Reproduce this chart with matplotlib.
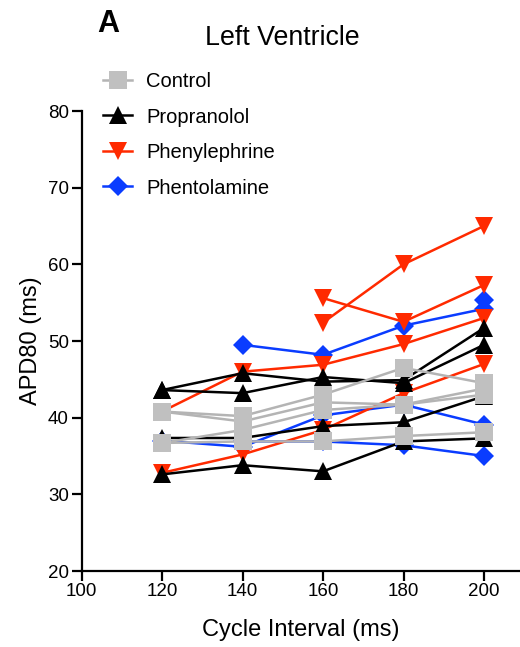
import numpy as np
import matplotlib
matplotlib.use("Agg")
import matplotlib.pyplot as plt
from matplotlib.lines import Line2D

plt.rcParams['font.family'] = ['Liberation Sans', 'DejaVu Sans']

cycle = [120, 140, 160, 180, 200]
nan = np.nan

control = [
    [40.8, 40.2, 43.0, 46.5, 44.5],
    [40.8, 39.5, 42.0, 41.7, 43.8],
    [36.7, 38.4, 41.0, 41.7, 43.0],
    [36.7, 36.9, 36.9, 37.6, 38.1],
]
propranolol = [
    [43.6, 45.8, 44.7, 44.9, 51.7],
    [43.6, 43.2, 45.3, 44.5, 49.5],
    [37.35, 37.35, 38.9, 39.4, 42.8],
    [32.6, 33.8, 33.0, 36.9, 37.3],
]
phenylephrine = [
    [nan, nan, 52.4, 60.0, 65.0],
    [nan, nan, 55.6, 52.5, 57.3],
    [40.8, 46.0, 46.9, 49.6, 53.0],
    [32.8, 35.2, 38.4, 43.2, 47.0],
]
phentolamine = [
    [nan, 49.5, 48.2, 52.0, 54.2],
    [37.0, 36.2, 40.3, 41.7, 39.1],
    [nan, 36.9, 36.9, 36.4, 35.0],
    [nan, nan, nan, nan, 55.3],
]

groups = ["Control", "Propranolol", "Phenylephrine", "Phentolamine"]
W, H = 520, 647
fig = plt.figure(figsize=(W / 100, H / 100), dpi=100)
ax = fig.add_axes([81.5 / W, 1 - 571 / H, (W - 81.5) / W, (571 - 111) / H])

styles = {
    "Phentolamine": dict(color="#0a3cff", mfc="#0a3cff", marker="D", ms=10.5, z=2),
    "Phenylephrine": dict(color="#ff2a00", mfc="#ff2a00", marker="v", ms=13, z=3),
    "Propranolol": dict(color="#000000", mfc="#000000", marker="^", ms=13, z=4),
    "Control": dict(color="#b4b4b4", mfc="#c0c0c0", marker="s", ms=13, z=5),
}
data = {"Control": control, "Propranolol": propranolol,
        "Phenylephrine": phenylephrine, "Phentolamine": phentolamine}

for g in ["Phentolamine", "Phenylephrine", "Propranolol", "Control"]:
    s = styles[g]
    for series in data[g]:
        ax.plot(cycle, series, color=s["color"], lw=1.8, marker=s["marker"],
                ms=s["ms"], mfc=s["mfc"], mec=s["mfc"], mew=0, zorder=s["z"])

ax.set_xlim(100, 100 + (W - 81.5) / 4.025)
ax.set_ylim(20, 80)
ax.set_xticks([100, 120, 140, 160, 180, 200])
ax.set_yticks([20, 30, 40, 50, 60, 70, 80])
ax.spines['top'].set_visible(False)
ax.spines['right'].set_visible(False)
for sp in ['left', 'bottom']:
    ax.spines[sp].set_linewidth(1.6)
ax.tick_params(axis='both', width=1.6, length=7, labelsize=13.5, direction='out', pad=2)

ax.set_xlabel("Cycle Interval (ms)", fontsize=17, labelpad=13)
ax.set_ylabel("APD80 (ms)", fontsize=17, labelpad=4)

fig.text(282 / W, 1 - 38 / H, "Left Ventricle", fontsize=19.3, ha='center', va='center')
fig.text(97 / W, 1 - 9 / H, "A", fontsize=22, fontweight='bold', ha='left', va='top')

handles = []
for g in groups:
    s = styles[g]
    handles.append(Line2D([], [], color=s["color"], lw=1.8, marker=s["marker"],
                          ms=s["ms"], mfc=s["mfc"], mec=s["mfc"], mew=0))
leg = fig.legend(handles, groups, loc='upper left', bbox_to_anchor=(103 / W, 1 - 72 / H),
                 frameon=False, fontsize=14.5, handlelength=1.44, handletextpad=0.7,
                 labelspacing=0.82, borderaxespad=0, borderpad=0)

fig.savefig("out.png", dpi=100)
